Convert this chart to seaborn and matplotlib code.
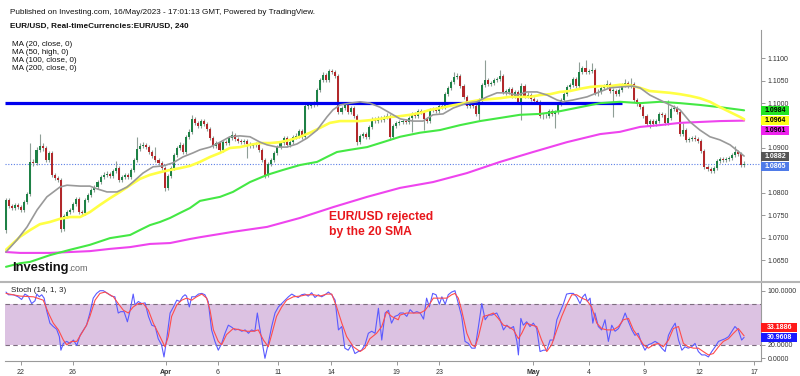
import matplotlib
matplotlib.use("Agg")
import matplotlib.pyplot as plt
import matplotlib.patches as mpatches
from matplotlib.transforms import IdentityTransform
import numpy as np
import pandas as pd
import seaborn as sns

# ---------------- data (EUR/USD, 4h bars, 22 Mar - 16 May 2023) ----------------
first_open = 1.0717
closes = [
    1.0784, 1.0771, 1.0766, 1.0773, 1.0768, 1.0762, 1.0780, 1.0797, 1.0869, 1.0867,
    1.0896, 1.0904, 1.0900, 1.0873, 1.0889, 1.0840, 1.0833, 1.0829, 1.0719, 1.0748,
    1.0757, 1.0762, 1.0775, 1.0786, 1.0757, 1.0755, 1.0784, 1.0795, 1.0806, 1.0813,
    1.0824, 1.0835, 1.0840, 1.0842, 1.0838, 1.0849, 1.0855, 1.0829, 1.0835, 1.0840,
    1.0835, 1.0851, 1.0873, 1.0898, 1.0904, 1.0907, 1.0902, 1.0891, 1.0882, 1.0873,
    1.0867, 1.0855, 1.0811, 1.0838, 1.0855, 1.0884, 1.0900, 1.0907, 1.0891, 1.0925,
    1.0936, 1.0965, 1.0956, 1.0949, 1.0960, 1.0953, 1.0942, 1.0922, 1.0904, 1.0911,
    1.0896, 1.0913, 1.0911, 1.0922, 1.0929, 1.0920, 1.0916, 1.0913, 1.0916, 1.0909,
    1.0904, 1.0907, 1.0907, 1.0896, 1.0873, 1.0840, 1.0864, 1.0873, 1.0889, 1.0902,
    1.0911, 1.0922, 1.0907, 1.0913, 1.0925, 1.0927, 1.0938, 1.0925, 1.0994, 1.0994,
    1.0998, 1.0998, 1.1029, 1.1052, 1.1063, 1.1052, 1.1072, 1.1069, 1.1061, 1.0980,
    1.0989, 1.0996, 1.0980, 1.0989, 1.0971, 1.0913, 1.0927, 1.0931, 1.0925, 1.0947,
    1.0965, 1.0960, 1.0967, 1.0962, 1.0969, 1.0971, 1.0925, 1.0949, 1.0956, 1.0958,
    1.0960, 1.0958, 1.0967, 1.0976, 1.0971, 1.0982, 1.0980, 1.0965, 1.0960, 1.0985,
    1.0987, 1.0982, 1.0994, 1.0991, 1.1020, 1.1034, 1.1047, 1.1058, 1.1061, 1.1038,
    1.1014, 1.0994, 1.0998, 1.0994, 1.0976, 1.1007, 1.1040, 1.1052, 1.1043, 1.1045,
    1.1052, 1.1054, 1.1061, 1.1025, 1.1025, 1.1032, 1.1016, 1.1025, 1.1003, 1.1038,
    1.1016, 1.1018, 1.1009, 1.1005, 1.1003, 1.0971, 1.0971, 1.0971, 1.0982, 1.0976,
    1.0980, 1.0998, 1.1007, 1.1020, 1.1036, 1.1040, 1.1054, 1.1038, 1.1069, 1.1078,
    1.1069, 1.1072, 1.1074, 1.1023, 1.1025, 1.1034, 1.1038, 1.1043, 1.1027, 1.1027,
    1.1020, 1.1029, 1.1040, 1.1045, 1.1038, 1.1043, 1.1007, 1.0998, 1.0991, 1.0971,
    1.0953, 1.0960, 1.0953, 1.0960, 1.0976, 1.0974, 1.0956, 1.0967, 1.0987, 1.0989,
    1.0980, 1.0931, 1.0940, 1.0918, 1.0920, 1.0922, 1.0920, 1.0916, 1.0893, 1.0858,
    1.0853, 1.0849, 1.0855, 1.0871, 1.0875, 1.0873, 1.0875, 1.0878, 1.0884, 1.0891,
    1.0887, 1.0862, 1.0865]
highs = [
    1.0788, 1.0789, 1.0776, 1.0778, 1.0777, 1.0772, 1.0784, 1.0801, 1.0911, 1.0876,
    1.0902, 1.0931, 1.0912, 1.0905, 1.0894, 1.0893, 1.0845, 1.0838, 1.0832, 1.0752,
    1.0762, 1.0766, 1.0780, 1.0791, 1.0790, 1.0762, 1.0788, 1.0799, 1.0810, 1.0818,
    1.0828, 1.0840, 1.0846, 1.0848, 1.0847, 1.0854, 1.0871, 1.0859, 1.0840, 1.0845,
    1.0844, 1.0855, 1.0878, 1.0925, 1.0910, 1.0913, 1.0912, 1.0906, 1.0895, 1.0902,
    1.0878, 1.0871, 1.0859, 1.0842, 1.0860, 1.0889, 1.0905, 1.0913, 1.0911, 1.0929,
    1.0942, 1.0974, 1.0970, 1.0961, 1.0965, 1.0964, 1.0957, 1.0946, 1.0926, 1.0916,
    1.0915, 1.0918, 1.0918, 1.0927, 1.0938, 1.0933, 1.0925, 1.0921, 1.0921, 1.0920,
    1.0913, 1.0912, 1.0913, 1.0911, 1.0900, 1.0877, 1.0869, 1.0878, 1.0893, 1.0906,
    1.0916, 1.0927, 1.0926, 1.0918, 1.0930, 1.0933, 1.0943, 1.0942, 1.0999, 1.1000,
    1.1003, 1.1005, 1.1034, 1.1056, 1.1069, 1.1067, 1.1076, 1.1077, 1.1073, 1.1065,
    1.0994, 1.1001, 1.1000, 1.0994, 1.0993, 1.0975, 1.0931, 1.0936, 1.0935, 1.0951,
    1.0969, 1.0970, 1.0972, 1.0971, 1.0974, 1.0977, 1.0975, 1.0953, 1.0961, 1.0963,
    1.0965, 1.0964, 1.0971, 1.0980, 1.0981, 1.0987, 1.0987, 1.0984, 1.0969, 1.0989,
    1.0992, 1.0991, 1.0998, 1.0999, 1.1025, 1.1038, 1.1052, 1.1069, 1.1067, 1.1065,
    1.1042, 1.1018, 1.1004, 1.1003, 1.0998, 1.1011, 1.1045, 1.1096, 1.1057, 1.1050,
    1.1057, 1.1059, 1.1074, 1.1065, 1.1031, 1.1037, 1.1036, 1.1030, 1.1029, 1.1045,
    1.1042, 1.1024, 1.1022, 1.1014, 1.1010, 1.1007, 1.0977, 1.0976, 1.0987, 1.0986,
    1.0985, 1.1003, 1.1012, 1.1025, 1.1040, 1.1045, 1.1058, 1.1058, 1.1092, 1.1083,
    1.1096, 1.1077, 1.1090, 1.1078, 1.1031, 1.1038, 1.1043, 1.1052, 1.1047, 1.1033,
    1.1031, 1.1034, 1.1045, 1.1054, 1.1049, 1.1056, 1.1047, 1.1011, 1.1002, 1.0995,
    1.0975, 1.0964, 1.0964, 1.0965, 1.0980, 1.0981, 1.0978, 1.1007, 1.0991, 1.0995,
    1.0993, 1.0984, 1.0956, 1.0944, 1.0925, 1.0927, 1.0929, 1.0925, 1.0920, 1.0897,
    1.0862, 1.0857, 1.0859, 1.0875, 1.0880, 1.0880, 1.0880, 1.0883, 1.0889, 1.0904,
    1.0895, 1.0891, 1.0870]
lows = [
    1.0710, 1.0766, 1.0761, 1.0762, 1.0763, 1.0757, 1.0758, 1.0776, 1.0793, 1.0860,
    1.0862, 1.0890, 1.0894, 1.0868, 1.0869, 1.0835, 1.0828, 1.0824, 1.0713, 1.0715,
    1.0744, 1.0752, 1.0758, 1.0771, 1.0752, 1.0750, 1.0751, 1.0780, 1.0791, 1.0802,
    1.0809, 1.0820, 1.0831, 1.0835, 1.0833, 1.0834, 1.0845, 1.0824, 1.0825, 1.0831,
    1.0830, 1.0831, 1.0847, 1.0869, 1.0893, 1.0899, 1.0897, 1.0886, 1.0877, 1.0868,
    1.0862, 1.0850, 1.0804, 1.0807, 1.0834, 1.0851, 1.0880, 1.0895, 1.0886, 1.0887,
    1.0920, 1.0932, 1.0951, 1.0944, 1.0945, 1.0948, 1.0937, 1.0917, 1.0899, 1.0900,
    1.0891, 1.0892, 1.0906, 1.0907, 1.0918, 1.0915, 1.0911, 1.0908, 1.0909, 1.0878,
    1.0899, 1.0900, 1.0902, 1.0891, 1.0868, 1.0833, 1.0836, 1.0860, 1.0869, 1.0885,
    1.0898, 1.0907, 1.0902, 1.0903, 1.0909, 1.0920, 1.0923, 1.0920, 1.0921, 1.0988,
    1.0989, 1.0992, 1.0994, 1.1025, 1.1048, 1.1047, 1.1048, 1.1064, 1.1056, 1.0975,
    1.0975, 1.0985, 1.0975, 1.0976, 1.0966, 1.0907, 1.0909, 1.0922, 1.0920, 1.0921,
    1.0943, 1.0955, 1.0956, 1.0957, 1.0958, 1.0964, 1.0918, 1.0921, 1.0945, 1.0951,
    1.0953, 1.0953, 1.0954, 1.0936, 1.0966, 1.0967, 1.0975, 1.0940, 1.0955, 1.0956,
    1.0980, 1.0977, 1.0978, 1.0986, 1.0987, 1.1016, 1.1030, 1.1043, 1.1053, 1.1033,
    1.1009, 1.0989, 1.0989, 1.0989, 1.0971, 1.0962, 1.1003, 1.1036, 1.1038, 1.1038,
    1.1041, 1.1047, 1.1050, 1.1020, 1.1019, 1.1021, 1.1011, 1.1012, 1.0998, 1.0962,
    1.1011, 1.1011, 1.1004, 1.1000, 1.0998, 1.0966, 1.0965, 1.0966, 1.0967, 1.0971,
    1.0945, 1.0976, 1.0994, 1.1003, 1.1016, 1.1031, 1.1036, 1.1033, 1.1034, 1.1065,
    1.1064, 1.1064, 1.1068, 1.1018, 1.1016, 1.1020, 1.1030, 1.1034, 1.1022, 1.0969,
    1.1015, 1.1016, 1.1025, 1.1036, 1.1033, 1.1034, 1.1002, 1.0993, 1.0986, 1.0966,
    1.0948, 1.0945, 1.0948, 1.0949, 1.0956, 1.0969, 1.0951, 1.0952, 1.0963, 1.0982,
    1.0975, 1.0926, 1.0927, 1.0913, 1.0913, 1.0915, 1.0915, 1.0911, 1.0888, 1.0853,
    1.0849, 1.0845, 1.0845, 1.0851, 1.0866, 1.0868, 1.0869, 1.0870, 1.0874, 1.0880,
    1.0882, 1.0858, 1.0858]

# moving averages (bar position, value)
ma20_bar = [0, 3.6, 6.9, 10.2, 13.4, 17.7, 20.0, 24.3, 27.5, 29.8, 33.1, 36.4, 39.7, 41.6, 44.9,
            48.2, 51.5, 54.8, 58.0, 61.3, 63.6, 66.9, 70.2, 73.4, 76.7, 80.0, 83.3, 85.6, 88.9,
            92.1, 95.4, 98.7, 102.0, 105.2, 107.2, 109.5, 112.8, 116.1, 119.3, 122.6, 125.9,
            129.2, 133.4, 136.7, 140.0, 143.3, 146.6, 151.1, 154.4, 157.7, 161.0, 164.3, 167.5,
            170.8, 174.1, 177.4, 180.7, 182.6, 185.9, 190.5, 193.8, 198.0, 201.3, 205.6, 207.9,
            211.1, 214.4, 217.7, 221.0, 224.3, 227.5, 230.8, 234.1, 237.4, 240.7, 242.0]
ma20_val = [1.0668, 1.0695, 1.0724, 1.0762, 1.0791, 1.0813, 1.0817, 1.0815, 1.0815, 1.0809,
            1.0802, 1.0802, 1.0813, 1.0824, 1.0844, 1.0858, 1.0860, 1.0867, 1.0880, 1.0889,
            1.0896, 1.0902, 1.0913, 1.0925, 1.0927, 1.0925, 1.0913, 1.0907, 1.0902, 1.0902,
            1.0909, 1.0922, 1.0940, 1.0969, 1.0985, 1.0996, 1.1000, 1.1003, 1.1000, 1.0991,
            1.0978, 1.0965, 1.0960, 1.0960, 1.0974, 1.0976, 1.0989, 1.1000, 1.1003, 1.1014,
            1.1023, 1.1023, 1.1018, 1.1025, 1.1025, 1.1018, 1.1007, 1.1003, 1.1007, 1.1014,
            1.1023, 1.1034, 1.1036, 1.1038, 1.1034, 1.1018, 1.1007, 1.0996, 1.0985, 1.0958,
            1.0940, 1.0925, 1.0918, 1.0907, 1.0889, 1.0882]
ma50_bar = [0, 4.6, 7.9, 11.1, 14.4, 17.7, 21.0, 24.3, 27.5, 30.8, 34.1, 37.4, 40.7, 43.9, 47.2,
            50.5, 53.8, 57.0, 60.3, 63.6, 66.9, 70.2, 73.4, 76.7, 80.0, 83.3, 86.6, 89.8, 93.1,
            96.4, 99.7, 103.0, 106.2, 109.5, 112.8, 116.1, 119.3, 122.6, 125.9, 129.2, 132.5,
            135.7, 139.0, 142.3, 145.6, 148.9, 152.1, 155.4, 158.7, 162.0, 165.2, 168.5, 171.8,
            175.1, 178.4, 181.6, 184.9, 188.2, 191.5, 194.8, 198.0, 201.3, 204.6, 207.9, 211.1,
            214.4, 217.7, 221.0, 224.3, 227.5, 230.8, 234.1, 237.4, 240.7, 242.0]
ma50_val = [1.0673, 1.0702, 1.0717, 1.0730, 1.0735, 1.0742, 1.0746, 1.0746, 1.0757, 1.0773,
            1.0788, 1.0802, 1.0817, 1.0831, 1.0840, 1.0846, 1.0851, 1.0855, 1.0860, 1.0869,
            1.0880, 1.0889, 1.0900, 1.0902, 1.0907, 1.0911, 1.0911, 1.0913, 1.0918, 1.0925,
            1.0934, 1.0945, 1.0956, 1.0960, 1.0960, 1.0960, 1.0962, 1.0965, 1.0969, 1.0971,
            1.0974, 1.0978, 1.0985, 1.0989, 1.0994, 1.0998, 1.1003, 1.1007, 1.1009, 1.1011,
            1.1014, 1.1014, 1.1014, 1.1018, 1.1020, 1.1025, 1.1027, 1.1032, 1.1036, 1.1038,
            1.1038, 1.1041, 1.1040, 1.1034, 1.1027, 1.1025, 1.1023, 1.1020, 1.1016, 1.1011,
            1.1003, 1.0991, 1.0980, 1.0969, 1.0964]
ma100_bar = [0, 4.6, 7.9, 14.4, 21.0, 27.5, 34.1, 40.7, 43.9, 47.2, 50.5, 53.8, 57.0, 60.3, 63.6,
             70.2, 74.4, 80.0, 85.6, 90.8, 96.4, 102.0, 105.2, 108.5, 112.8, 118.4, 123.6, 129.2,
             135.7, 142.3, 148.9, 155.4, 162.0, 168.5, 175.1, 181.6, 188.2, 194.8, 201.3, 207.9,
             214.4, 221.0, 227.5, 234.1, 242.0]
ma100_val = [1.0635, 1.0643, 1.0646, 1.0661, 1.0673, 1.0684, 1.0699, 1.0706, 1.0717, 1.0728,
             1.0735, 1.0744, 1.0755, 1.0766, 1.0782, 1.0791, 1.0802, 1.0824, 1.0840, 1.0851,
             1.0862, 1.0869, 1.0880, 1.0891, 1.0896, 1.0902, 1.0913, 1.0925, 1.0934, 1.0940,
             1.0951, 1.0960, 1.0967, 1.0974, 1.0976, 1.0982, 1.0991, 1.1000, 1.1003, 1.1000,
             1.1003, 1.1000, 1.0996, 1.0991, 1.0984]
ma200_bar = [0, 4.6, 14.4, 21.0, 27.5, 34.1, 40.7, 47.2, 53.8, 60.3, 63.6, 74.4, 85.6, 96.4, 107.2,
             118.4, 129.2, 140.0, 151.1, 162.0, 172.8, 183.9, 194.8, 201.3, 207.9, 214.4, 221.0,
             227.5, 234.1, 242.0]
ma200_val = [1.0668, 1.0666, 1.0666, 1.0668, 1.0670, 1.0675, 1.0679, 1.0686, 1.0688, 1.0697,
             1.0701, 1.0713, 1.0724, 1.0744, 1.0768, 1.0791, 1.0811, 1.0824, 1.0844, 1.0869,
             1.0891, 1.0913, 1.0931, 1.0936, 1.0947, 1.0951, 1.0956, 1.0958, 1.0960, 1.0961]

# Stochastic (14, 1, 3): %K (blue) and %D (red)
k_bar = [0, 0.8, 2.4, 4.0, 5.1, 6.2, 7.3, 8.4, 9.5, 10.1, 10.9, 11.7, 12.5, 13.3, 14.4, 15.5, 16.6,
         17.5, 18.0, 18.8, 19.9, 21.0, 22.1, 23.2, 24.3, 25.4, 26.4, 27.5, 28.6, 29.7, 30.8, 31.9,
         33.0, 34.6, 35.7, 36.8, 37.6, 38.7, 39.8, 40.7, 41.7, 42.3, 43.4, 44.5, 45.6, 46.7, 47.8,
         48.9, 49.9, 51.0, 51.8, 52.7, 53.8, 54.9, 56.0, 57.0, 57.9, 58.7, 59.2, 60.1, 60.9, 62.0,
         63.1, 64.2, 65.2, 66.3, 67.4, 68.5, 69.6, 70.7, 71.8, 72.9, 74.0, 75.1, 76.2, 77.3, 78.4,
         79.5, 80.5, 81.6, 82.4, 83.1, 83.8, 84.9, 86.0, 87.1, 88.2, 89.3, 90.4, 91.5, 92.6, 93.7,
         94.8, 95.8, 96.9, 98.0, 99.1, 100.2, 101.3, 102.4, 103.5, 104.6, 105.7, 106.8, 107.9,
         109.0, 110.1, 111.1, 112.2, 113.3, 114.4, 115.5, 116.6, 117.7, 118.8, 119.9, 121.0,
         122.1, 123.2, 124.3, 125.4, 126.4, 127.5, 128.6,
         129.2, 130.3, 131.4, 132.5, 133.6, 134.7, 135.8, 136.9, 137.9, 138.8, 139.9, 141.0,
         142.1, 142.9, 144.0, 145.0, 146.1, 147.2, 148.3, 149.4, 150.5, 151.6, 152.7, 153.8,
         154.9, 156.0, 157.1, 158.2, 159.3, 160.9, 162.0, 163.1, 164.2, 165.3, 166.4, 167.5,
         168.0, 168.8, 169.6, 170.7, 171.8, 172.9, 174.0, 175.1, 176.2, 177.3, 178.4, 179.5,
         180.6, 181.7, 182.8, 183.8, 184.9, 186.0, 187.1, 188.2, 189.1, 189.9, 190.6, 191.5,
         192.4, 193.1, 194.2, 195.3, 196.4, 197.5, 198.6, 199.7, 200.8, 201.9, 203.0, 204.1,
         205.2, 206.2, 207.3, 208.4, 209.5, 210.6, 211.7, 212.8, 213.9, 215.0, 216.1, 217.2,
         218.3, 219.4, 220.5, 221.6, 222.6, 223.7, 224.8, 225.9, 227.0, 228.1, 229.2, 230.3,
         231.4, 232.5, 233.6, 234.7, 235.8, 236.9, 238.0, 239.0, 240.1, 241.2, 242.0]
k_val = [98, 94, 94, 91, 87, 95, 92, 81, 85, 95, 91, 94, 89, 71, 52, 47, 43,
         32, 12, 22, 25, 22, 27, 19, 34, 42, 49, 67, 89, 96, 100, 100,
         97, 92, 91, 67, 69, 69, 54, 71, 95, 79, 84, 81, 82, 62, 49,
         47, 29, 20, 2, 29, 67, 76, 86, 84, 91, 94, 92, 76, 91, 91,
         95, 96, 94, 84, 42, 25, 12, 22, 37, 49, 46, 42, 43, 40, 42,
         37, 42, 40, 67, 47, 29, 0, 22, 47, 67, 76, 81, 86, 91, 95,
         92, 90, 94, 95, 92, 97, 90, 94, 91, 94, 98, 94, 86,
         42, 47, 15, 12, 20, 7, 10, 12, 20, 37, 40, 37,
         74, 27, 67, 71, 52, 62, 64,
         67, 67, 62, 72, 67, 69, 67, 58, 89, 76, 96, 94,
         80, 91, 80, 94, 98, 100, 81, 62, 25, 22, 15, 15,
         47, 81, 57, 64, 64, 67, 57, 42, 49, 44, 47, 25,
         5, 59, 49, 54, 47, 52, 44, 10, 12, 12, 27, 27,
         57, 69, 81, 95, 96, 96, 91, 81, 91, 95, 84, 89,
         52, 67, 47, 42, 57, 25, 49, 40, 44, 54, 67, 54,
         42, 34, 37, 22, 12, 20, 22, 25, 22, 15, 10, 34,
         44, 52, 27, 12, 17, 15, 17, 22, 10, 5, 5, 2,
         10, 17, 25, 27, 29, 32, 40, 47, 42, 27, 30.9608]
d_bar = [0, 4.6, 9.0, 12.2, 13.9, 15.5, 17.2, 18.8, 19.9, 21.5, 23.2, 24.8, 26.4, 27.5, 29.2,
         30.8, 32.5, 35.2, 36.8, 38.5, 40.1, 41.7, 43.4, 45.0, 46.7, 48.3, 50.5, 52.1, 53.2, 54.3,
         56.0, 57.6, 59.2, 60.9, 62.5, 64.2, 65.8, 66.9, 68.0, 69.6, 70.7, 72.3, 74.5, 76.7, 78.9,
         81.1, 82.7, 84.4, 86.0, 87.1, 88.7, 90.4, 92.0, 94.2, 96.4, 98.6, 100.8, 103.0, 105.1,
         106.8, 108.4, 110.1, 111.7, 113.9, 116.1, 117.7, 119.3, 121.5, 123.2, 124.8, 126.4, 128.6,
         129.2, 131.4, 133.6, 135.8, 137.4, 139.0, 140.1, 142.3, 144.5, 146.1, 147.2, 148.3,
         149.4, 151.1, 152.7, 153.8, 154.9, 156.5, 158.2, 159.8, 161.4, 163.1, 164.7, 166.4,
         168.0, 169.1, 170.7, 172.4, 174.0, 175.6, 177.3, 178.9, 180.6, 182.2, 183.8, 185.5,
         187.1, 188.8, 190.4, 192.0, 193.7, 195.3, 197.0, 199.1, 200.8, 202.4, 204.1, 205.7,
         207.3, 209.0, 210.6, 212.3, 213.9, 215.5, 217.2, 218.8, 220.5, 222.1, 223.7, 225.4,
         227.0, 228.6, 230.3, 231.9, 233.6, 235.2, 236.9, 238.5, 240.1, 242.0]
d_val = [96, 92, 91, 86, 67, 52, 42, 27, 20, 25, 25, 37, 49, 62, 86,
         96, 98, 91, 81, 71, 67, 76, 81, 81, 71, 52, 32, 17, 32, 62,
         79, 86, 89, 86, 91, 95, 89, 71, 42, 25, 20, 35, 44, 42, 40,
         40, 42, 27, 17, 35, 62, 76, 86, 91, 92, 94, 94, 92, 95,
         95, 76, 52, 32, 17, 10, 15, 29, 37, 47, 69, 62, 57,
         64, 67, 67, 67, 71, 81, 89, 89, 89, 94, 96, 89,
         71, 37, 20, 17, 32, 62, 64, 67, 59, 49, 47, 42,
         29, 37, 52, 49, 47, 27, 10, 20, 42, 62, 79, 94,
         94, 89, 86, 76, 52, 44, 42, 42, 47, 57, 59, 42,
         32, 20, 15, 20, 22, 17, 27, 44, 47, 22, 17, 15,
         15, 10, 5, 7, 17, 25, 29, 37, 44, 33.1886]

# annotation / reference levels
resistance_level = 1.1000
resistance_first_bar = 0
resistance_last_bar = 202
last_price = 1.0865
date_labels = ['22', '26', 'Apr', '6', '11', '14', '19', '23', 'May', '4', '9', '12', '17']
date_label_bars = [4.8, 21.9, 52.4, 69.5, 89.1, 106.6, 128.1, 142.1, 172.8, 191.1, 209.3, 227.3, 245.3]
price_ticks = [1.0650, 1.0700, 1.0750, 1.0800, 1.0850, 1.0900, 1.0950, 1.1000, 1.1050, 1.1100]
price_labels = ['1.0650', '1.0700', '1.0750', '1.0800', '', '1.0900', '', '1.1000', '1.1050', '1.1100']
stoch_ticks = [0, 20, 100]
ma_names = ['MA (20, close, 0)', 'MA (50, high, 0)', 'MA (100, close, 0)', 'MA (200, close, 0)']
ma_last = [1.0882, 1.0964, 1.0984, 1.0961]

# ---------------- style ----------------
sns.set_theme(style="white")
plt.rcParams['font.family'] = ['Liberation Sans', 'DejaVu Sans']

W, H = 800, 376
fig = plt.figure(figsize=(W / 100, H / 100), dpi=100)
fig.patch.set_facecolor('white')

def fx(px):
    return px / W

def fy(py):
    return 1 - py / H

AX_L, AX_R = 5, 761
MAIN_T, MAIN_B = 30, 280
ST_T, ST_B = 283, 361
ax = fig.add_axes([fx(AX_L), fy(MAIN_B), (AX_R - AX_L) / W, (MAIN_B - MAIN_T) / H])
sax = fig.add_axes([fx(AX_L), fy(ST_B), (AX_R - AX_L) / W, (ST_B - ST_T) / H])
XLIM = (-0.33, 247.54)
for a in (ax, sax):
    a.set_xlim(*XLIM)
    a.set_facecolor('white')
ax.set_ylim(1.06056, 1.11631)
sax.set_ylim(-4.0, 111.4)

# ---------------- candles ----------------
c = np.array(closes)
o = np.array([first_open] + closes[:-1])
bars = np.arange(len(c))
up = c >= o
ax.vlines(bars, lows, highs, color='#8f9e96', lw=0.8, zorder=2)
bottom = np.minimum(o, c)
height = np.maximum(np.abs(c - o), 0.00012)
ax.bar(bars[up], height[up], bottom=bottom[up], width=0.66, color='#1e8146', lw=0, zorder=3)
ax.bar(bars[~up], height[~up], bottom=bottom[~up], width=0.66, color='#b2282b', lw=0, zorder=3)

# reference lines
ax.axhline(last_price, color='#5b7fe6', lw=0.8, ls=(0, (1, 1.5)), zorder=1)
ax.hlines(resistance_level, resistance_first_bar - 0.3, resistance_last_bar, color='#0000ee', lw=2.3, zorder=4)

# moving averages
ma_df = pd.concat([
    pd.DataFrame({'bar': ma200_bar, 'val': ma200_val, 'ma': 'MA200'}),
    pd.DataFrame({'bar': ma100_bar, 'val': ma100_val, 'ma': 'MA100'}),
    pd.DataFrame({'bar': ma50_bar, 'val': ma50_val, 'ma': 'MA50'}),
    pd.DataFrame({'bar': ma20_bar, 'val': ma20_val, 'ma': 'MA20'}),
])
ma_style = {'MA200': ('#ee44ee', 1.5), 'MA100': ('#44e844', 1.5), 'MA50': ('#ffff44', 1.9), 'MA20': ('#999999', 1.2)}
for name, sub in ma_df.groupby('ma', sort=False):
    col, lw = ma_style[name]
    sns.lineplot(data=sub, x='bar', y='val', ax=ax, color=col, lw=lw, estimator=None, zorder=5)

# ---------------- main axis formatting ----------------
ax.set_xlabel('')
ax.set_ylabel('')
ax.set_xticks([])
ax.yaxis.tick_right()
ax.set_yticks(price_ticks)
ax.set_yticklabels(price_labels)
ax.tick_params(axis='y', which='both', direction='out', length=3, width=0.6, color='#888888',
               labelcolor='#333333', labelsize=5, pad=1.5, right=True, left=False)
for s in ('left', 'top', 'bottom'):
    ax.spines[s].set_visible(False)
ax.spines['right'].set_color('#9a9a9a')
ax.spines['right'].set_linewidth(0.8)

# ---------------- stochastic panel ----------------
sax.fill_between(list(XLIM), 20, 80, color='#dcc2e2', lw=0, zorder=0)
sax.axhline(80, color='#7d6d7f', lw=0.8, ls=(0, (4, 3)), zorder=1)
sax.axhline(20, color='#7d6d7f', lw=0.8, ls=(0, (4, 3)), zorder=1)
sns.lineplot(x=k_bar, y=k_val, ax=sax, color='#5a5aff', lw=0.8, estimator=None, zorder=3)
sns.lineplot(x=d_bar, y=d_val, ax=sax, color='#ff4c4c', lw=0.8, estimator=None, zorder=4)
sax.set_xlabel('')
sax.set_ylabel('')
sax.yaxis.tick_right()
sax.set_yticks(stoch_ticks)
sax.set_yticklabels([f'{t:.4f}' for t in stoch_ticks])
sax.set_xticks(date_label_bars)
sax.set_xticklabels(date_labels)
sax.tick_params(axis='both', which='both', direction='out', length=3, width=0.6, color='#888888',
                labelcolor='#333333', labelsize=5, pad=1.5)
sax.tick_params(axis='x', pad=2.5, bottom=True)
sax.tick_params(axis='y', right=True, left=False)
for lab in sax.get_xticklabels():
    if lab.get_text() in ('Apr', 'May'):
        lab.set_fontweight('bold')
for s in ('left', 'top'):
    sax.spines[s].set_visible(False)
for s in ('right', 'bottom'):
    sax.spines[s].set_color('#9a9a9a')
    sax.spines[s].set_linewidth(0.8)

# separator between panels
fig.add_artist(plt.Line2D([0, 1], [fy(281.5), fy(281.5)], transform=fig.transFigure,
                          color='#b5b5b5', lw=1.5))

# ---------------- value boxes on the right ----------------
ident = IdentityTransform()

def value_boxes(axis, items, width, hgt, fsize, push_down=True):
    pts = []
    for val, txt, fc, tc in items:
        ydisp = axis.transData.transform((0, val))[1]
        pts.append([ydisp, txt, fc, tc])
    pts.sort(key=lambda p: -p[0] if push_down else p[0])
    prev = None
    for p in pts:
        if prev is not None:
            if push_down and prev - p[0] < hgt + 1:
                p[0] = prev - (hgt + 1)
            if (not push_down) and p[0] - prev < hgt + 1:
                p[0] = prev + (hgt + 1)
        prev = p[0]
    for ydisp, txt, fc, tc in pts:
        fig.add_artist(mpatches.Rectangle((AX_R, ydisp - hgt / 2), width, hgt, transform=ident,
                                          facecolor=fc, edgecolor='none', zorder=10))
        fig.text(AX_R + width / 2 + 0.5, ydisp - 0.3, txt, transform=ident, ha='center', va='center',
                 fontsize=fsize, color=tc, fontweight='bold', zorder=11)

value_boxes(ax, [(ma_last[2], f'{ma_last[2]:.4f}', '#22e622', 'black'),
                 (ma_last[1], f'{ma_last[1]:.4f}', '#ffff1a', 'black'),
                 (ma_last[3], f'{ma_last[3]:.4f}', '#ee22ee', 'black'),
                 (ma_last[0], f'{ma_last[0]:.4f}', '#555555', 'white'),
                 (last_price, f'{last_price:.4f}', '#4f7be8', 'white')],
            28, 9, 5.0, push_down=True)
value_boxes(sax, [(d_val[-1], f'{d_val[-1]:.4f}', '#ff1a1a', 'white'),
                  (k_val[-1], f'{k_val[-1]:.4f}', '#1a1aff', 'white')],
            36, 9, 5.0, push_down=False)

# ---------------- texts ----------------
def ftext(x, y, s, **kw):
    fig.text(fx(x), fy(y), s, **kw)

ftext(10, 13.5, 'Published on Investing.com, 16/May/2023 - 17:01:13 GMT, Powered by TradingView.',
      fontsize=5.9, color='#111111', va='baseline')
ftext(10, 28, 'EUR/USD, Real-timeCurrencies:EUR/USD, 240', fontsize=5.9, fontweight='bold',
      color='#111111', va='baseline')
for k, name in enumerate(ma_names):
    ftext(12, 46.5 + 8 * k, name, fontsize=5.8, color='#111111', va='baseline')
ftext(329, 220, 'EUR/USD rejected', fontsize=8.7, fontweight='bold', color='#e8171c', va='baseline')
ftext(329, 234.5, 'by the 20 SMA', fontsize=8.7, fontweight='bold', color='#e8171c', va='baseline')
ftext(12.5, 271, 'Investing', fontsize=9.3, fontweight='bold', color='#111111', va='baseline')
ftext(68, 271, '.com', fontsize=6.5, color='#666666', va='baseline')
ftext(11, 292.5, 'Stoch (14, 1, 3)', fontsize=5.8, color='#222222', va='baseline')

fig.savefig('out.png', dpi=100, facecolor='white')
